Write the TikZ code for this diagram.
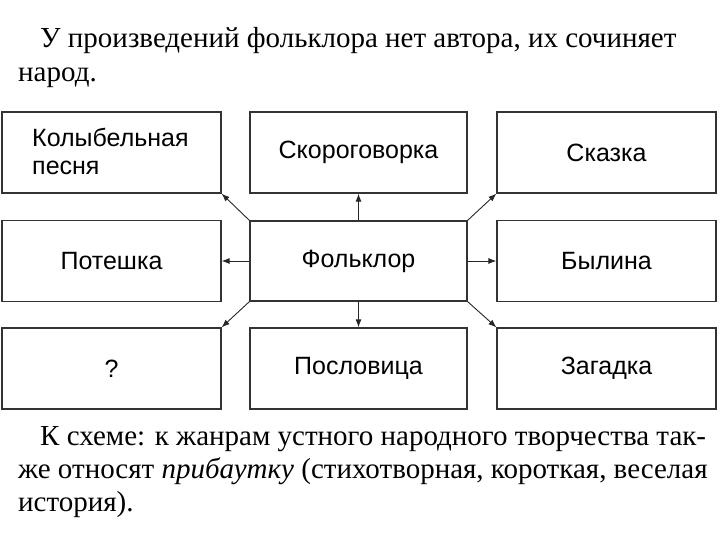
\documentclass[tikz,border=0pt]{standalone}
\usepackage{fontspec}
\usetikzlibrary{arrows.meta}
\setmainfont{Liberation Serif}
\newfontfamily\boxfont{Liberation Sans}
\begin{document}
\begin{tikzpicture}[x=1pt,y=-1pt,
  bx/.style={draw=black!80,line width=1.2pt,minimum width=219pt,minimum height=81pt,font=\boxfont\fontsize{25}{28}\selectfont,align=center,inner sep=0pt},
  ar/.style={-{Latex[length=8pt,width=6pt]},line width=0.9pt,black!85},
  tx/.style={anchor=base west,inner sep=0pt,font=\fontsize{29}{32}\selectfont}]
\useasboundingbox (0,0) rectangle (720,540);
\node[bx] (a) at (111.5,152.5) {};
\node[align=left,font=\boxfont\fontsize{25}{28}\selectfont,anchor=west,inner sep=0pt] (at) at (32,151) {Колыбельная\\песня};
\node[bx,minimum width=217pt] (b) at (358.5,152.5) {Скороговорка};
\node[bx] (c) at (606.5,152.5) {Сказка};
\node[bx] (d) at (111.5,261) {Потешка};
\node[bx,minimum width=217pt,minimum height=80pt] (e) at (358.5,261) {Фольклор};
\node[bx] (f) at (606.5,261) {Былина};
\node[bx] (g) at (111.5,368.5) {?};
\node[bx,minimum width=217pt] (h) at (358.5,368.5) {Пословица};
\node[bx] (i) at (606.5,368.5) {Загадка};
\draw[ar] (e.north west) -- (a.south east);
\draw[ar] (e.north) -- (b.south);
\draw[ar] (e.north east) -- (c.south west);
\draw[ar] (e.west) -- (d.east);
\draw[ar] (e.east) -- (f.west);
\draw[ar] (e.south west) -- (g.north east);
\draw[ar] (e.south) -- (h.north);
\draw[ar] (e.south east) -- (i.north west);
\node[tx] (t1) at (40,48) {У произведений фольклора нет автора, их сочиняет};
\node[tx] (t2) at (18,82) {народ.};
\node[tx] (t3) at (40,445) {К схеме: к жанрам устного народного творчества так-};
\node[tx] (t4) at (18,478) {же относят \textit{прибаутку} (стихотворная, короткая, веселая};
\node[tx] (t5) at (18,511) {история).};
\end{tikzpicture}
\end{document}
